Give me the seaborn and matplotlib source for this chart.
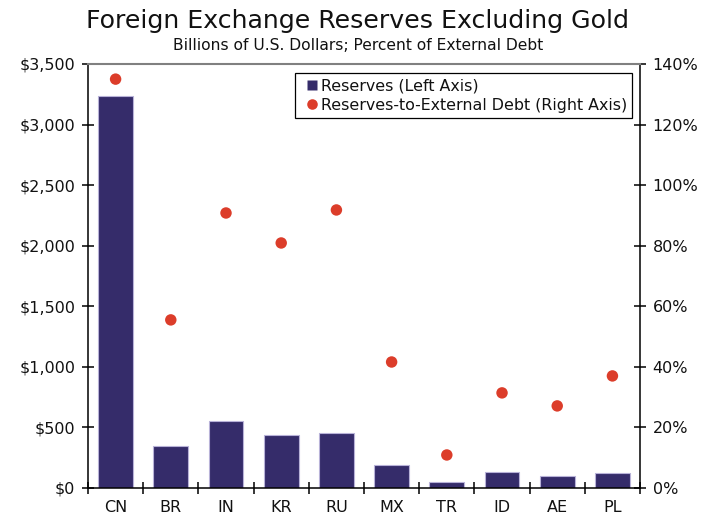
import matplotlib
matplotlib.use("Agg")
import matplotlib.pyplot as plt
import matplotlib.ticker as mticker
from matplotlib.lines import Line2D
import seaborn as sns
import pandas as pd
import numpy as np

countries = ["CN", "BR", "IN", "KR", "RU", "MX", "TR", "ID", "AE", "PL"]
reserves_bn = [3236, 347, 553, 437, 454, 190, 50, 132, 99, 124]
reserves_to_debt_pct = [135.0, 55.5, 90.8, 80.9, 91.8, 41.6, 10.9, 31.4, 27.1, 37.0]

bar_color = "#352c6a"
dot_color = "#dc3d2a"

df = pd.DataFrame({"country": countries,
                   "reserves": reserves_bn,
                   "ratio": reserves_to_debt_pct})

sns.set_theme(style="white")
plt.rcParams["font.family"] = ["DejaVu Sans"]
plt.rcParams["text.color"] = "#111111"
plt.rcParams["xtick.color"] = "#111111"
plt.rcParams["ytick.color"] = "#111111"

fig = plt.figure(figsize=(7.16, 5.16), dpi=100)
ax = fig.add_axes([0.1229, 0.0543, 0.7710, 0.8217])

sns.barplot(data=df, x="country", y="reserves", color=bar_color, width=0.63,
            edgecolor="#b8b2d8", linewidth=0.8, saturation=1, ax=ax)
ax.set_ylim(0, 3500)
ax.set_xlim(-0.5, len(countries) - 0.5)
ax.set_xlabel("")
ax.set_ylabel("")
ax.yaxis.set_major_locator(mticker.MultipleLocator(500))
ax.yaxis.set_major_formatter(mticker.FuncFormatter(lambda v, p: f"${v:,.0f}"))

ax2 = ax.twinx()
sns.scatterplot(data=df, x="country", y="ratio", color=dot_color, s=68,
                edgecolor="none", ax=ax2, zorder=3)
ax2.set_ylim(0, 140)
ax2.set_ylabel("")
ax2.yaxis.set_major_locator(mticker.MultipleLocator(20))
ax2.yaxis.set_major_formatter(mticker.FuncFormatter(lambda v, p: f"{v:.0f}%"))
ax2.set_xlim(-0.5, len(countries) - 0.5)

for a in (ax, ax2):
    for s in a.spines.values():
        s.set_visible(False)
ax.spines["left"].set_visible(True)
ax.spines["left"].set_color("black")
ax.spines["left"].set_linewidth(1.1)
ax.spines["bottom"].set_visible(True)
ax.spines["bottom"].set_color("black")
ax.spines["bottom"].set_linewidth(1.1)
ax2.spines["right"].set_visible(True)
ax2.spines["right"].set_color("black")
ax2.spines["right"].set_linewidth(1.1)
ax2.spines["top"].set_visible(True)
ax2.spines["top"].set_color("#808080")
ax2.spines["top"].set_linewidth(1.5)

# category labels centred, tick marks on category boundaries
ax.set_xticks(np.arange(len(countries)))
ax.set_xticklabels(countries)
ax.tick_params(axis="x", length=0, pad=9, labelsize=11.5)
ax.set_xticks(np.arange(len(countries) + 1) - 0.5, minor=True)
ax.tick_params(axis="x", which="minor", direction="inout", length=8,
               width=1.1, color="black", bottom=True)
ax.tick_params(axis="y", direction="inout", length=8, width=1.1,
               color="black", labelsize=11.5, pad=5, left=True)
ax2.tick_params(axis="y", direction="inout", length=8, width=1.1,
                color="black", labelsize=11.5, pad=5, right=True)
ax2.tick_params(axis="x", bottom=False, labelbottom=False)

handles = [Line2D([], [], marker="s", linestyle="none", markerfacecolor=bar_color,
                  markeredgecolor="none", markersize=7.2),
           Line2D([], [], marker="o", linestyle="none", markerfacecolor=dot_color,
                  markeredgecolor="none", markersize=7.6)]
leg = ax2.legend(handles, ["Reserves (Left Axis)",
                           "Reserves-to-External Debt (Right Axis)"],
                 loc="upper right", bbox_to_anchor=(0.985, 0.978), fontsize=11.4,
                 frameon=True, fancybox=False, framealpha=1, edgecolor="black",
                 handlelength=1.65, handletextpad=-0.3, numpoints=1,
                 borderpad=0.3, labelspacing=0.3, borderaxespad=0)
leg.get_frame().set_linewidth(0.9)

fig.text(0.5, 0.96, "Foreign Exchange Reserves Excluding Gold",
         ha="center", va="center", fontsize=18.2)
fig.text(0.5, 0.912, "Billions of U.S. Dollars; Percent of External Debt",
         ha="center", va="center", fontsize=11.2)

fig.savefig("out.png", dpi=100)
